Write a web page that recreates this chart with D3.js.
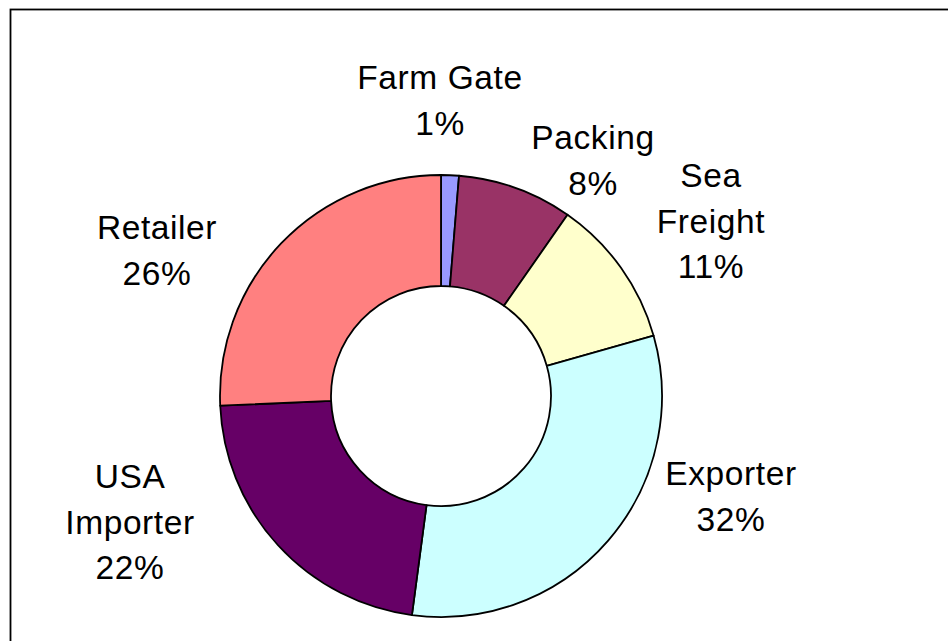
<!DOCTYPE html>
<html>
<head>
<meta charset="utf-8">
<script src="https://cdn.jsdelivr.net/npm/d3@7"></script>
<style>
  html, body { margin: 0; padding: 0; background: #fff; }
  svg { display: block; }
</style>
</head>
<body>
<svg id="chart" width="948" height="641"></svg>
<script>
// Data
const categories = ["Farm Gate", "Packing", "Sea\nFreight", "Exporter", "USA\nImporter", "Retailer"];
const values = [1.3, 8.4, 10.9, 31.5, 22.2, 25.7];
const colors = ["#9999FF", "#993366", "#FFFFCC", "#CCFFFF", "#660066", "#FF8080"];

// Layout (label anchor: center x, first baseline y)
const labelLayout = [
  [440, 89], [593, 149], [711, 187], [731, 485], [130, 488], [157, 239]
];

const svg = d3.select("#chart");
const W = 948, H = 641;
const cx = 441, cy = 396, rOuter = 221, rInner = 110;

// Frame
svg.append("rect")
  .attr("x", 10.5).attr("y", 9.5)
  .attr("width", W + 20).attr("height", H + 20)
  .attr("fill", "#fff").attr("stroke", "#000").attr("stroke-width", 1.8);

const pie = d3.pie().sort(null).value(d => d.v).startAngle(0).endAngle(2 * Math.PI);
const data = categories.map((c, i) => ({ name: c, v: values[i], color: colors[i] }));
const arcs = pie(data);
const arc = d3.arc().innerRadius(rInner).outerRadius(rOuter);

const g = svg.append("g").attr("transform", `translate(${cx},${cy})`);
g.selectAll("path").data(arcs).enter().append("path")
  .attr("d", arc)
  .attr("fill", d => d.data.color)
  .attr("stroke", "#000")
  .attr("stroke-width", 1.8)
  .attr("stroke-linejoin", "round");

const total = d3.sum(values);
const lineStep = 45.5;
const labels = svg.append("g")
  .attr("font-family", "'Liberation Sans', Arial, sans-serif")
  .attr("font-size", 33.5)
  .attr("fill", "#000")
  .attr("text-anchor", "middle");

arcs.forEach((d, i) => {
  const lines = d.data.name.split("\n").concat([Math.round(d.data.v / total * 100) + "%"]);
  const [lx, ly] = labelLayout[i];
  const t = labels.append("text").attr("x", lx).attr("y", ly).attr("letter-spacing", 0.6);
  lines.forEach((ln, j) => {
    t.append("tspan").attr("x", lx).attr("y", ly + j * lineStep).text(ln);
  });
});
</script>
</body>
</html>
